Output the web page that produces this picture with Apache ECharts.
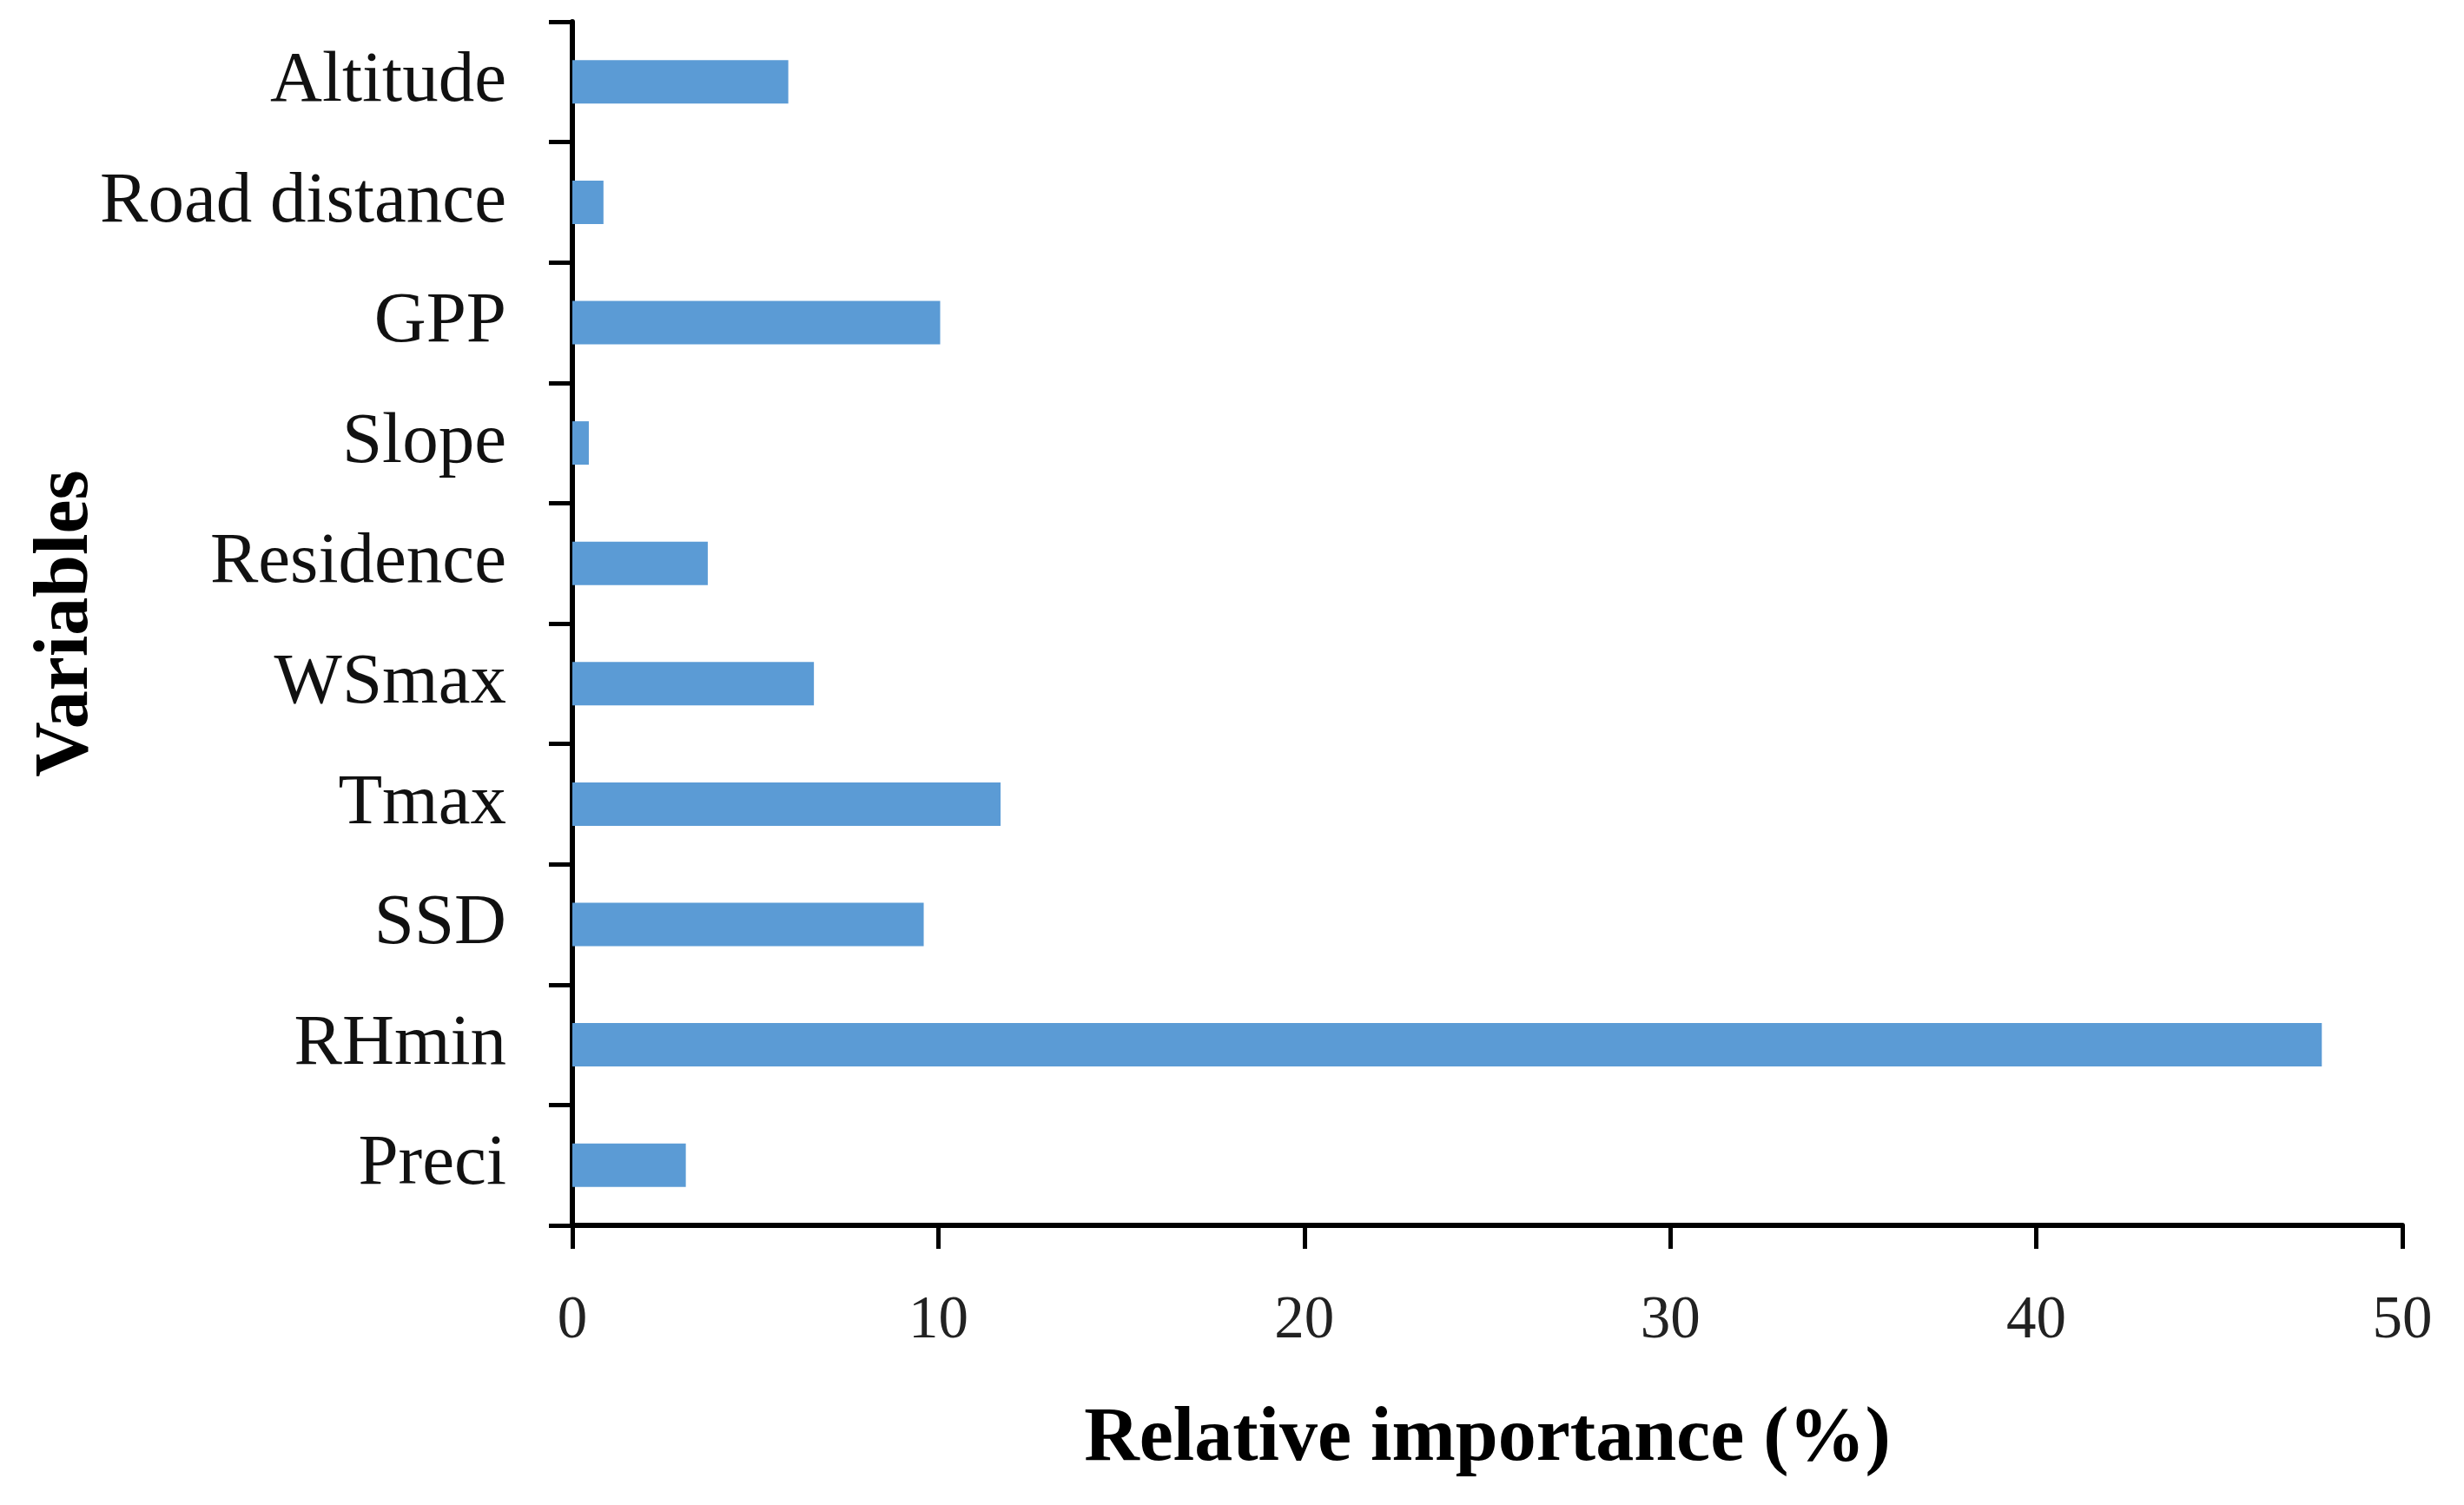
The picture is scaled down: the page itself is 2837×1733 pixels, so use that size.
<!DOCTYPE html>
<html>
<head>
<meta charset="utf-8">
<script src="https://cdn.jsdelivr.net/npm/echarts@6/dist/echarts.min.js"></script>
<style>
html,body{margin:0;padding:0;background:#fff;}
#chart{width:2837px;height:1733px;}
</style>
</head>
<body>
<div id="chart"></div>
<script>
// Categories listed top to bottom
const categories = ['Altitude', 'Road distance', 'GPP', 'Slope', 'Residence', 'WSmax', 'Tmax', 'SSD', 'RHmin', 'Preci'];
const importance = [5.9, 0.85, 10.05, 0.45, 3.7, 6.6, 11.7, 9.6, 47.8, 3.1];
const xTicks = [0, 10, 20, 30, 40, 50];

const chart = echarts.init(document.getElementById('chart'), null, {renderer: 'canvas'});
const serif = "'Liberation Serif', 'DejaVu Serif', serif";
chart.setOption({
  backgroundColor: '#ffffff',
  animation: false,
  grid: {left: 659, right: 71, top: 25, bottom: 322, containLabel: false},
  xAxis: {
    type: 'value',
    min: xTicks[0],
    max: xTicks[xTicks.length - 1],
    interval: xTicks[1] - xTicks[0],
    name: 'Relative importance (%)',
    nameLocation: 'middle',
    nameGap: 203,
    nameMoveOverlap: false,
    nameTextStyle: {fontFamily: serif, fontWeight: 'bold', fontSize: 88, color: '#000'},
    axisLine: {show: true, lineStyle: {color: '#000', width: 6}},
    axisTick: {show: true, inside: false, length: 27, lineStyle: {color: '#000', width: 5}},
    axisLabel: {fontFamily: serif, fontSize: 69, color: '#222', margin: 76},
    splitLine: {show: false}
  },
  yAxis: {
    type: 'category',
    data: categories,
    inverse: true,
    name: 'Variables',
    nameLocation: 'middle',
    nameRotate: 90,
    nameGap: 538,
    nameMoveOverlap: false,
    nameTextStyle: {fontFamily: serif, fontWeight: 'bold', fontSize: 88, color: '#000'},
    axisLine: {show: true, lineStyle: {color: '#000', width: 6}},
    axisTick: {show: true, inside: false, length: 27, alignWithLabel: false, lineStyle: {color: '#000', width: 5}},
    axisLabel: {fontFamily: serif, fontSize: 83, color: '#111', margin: 76},
    splitLine: {show: false}
  },
  series: [{
    type: 'bar',
    data: importance,
    barWidth: 50,
    itemStyle: {color: '#5B9BD5'},
    z: 1
  }]
});
</script>
</body>
</html>
